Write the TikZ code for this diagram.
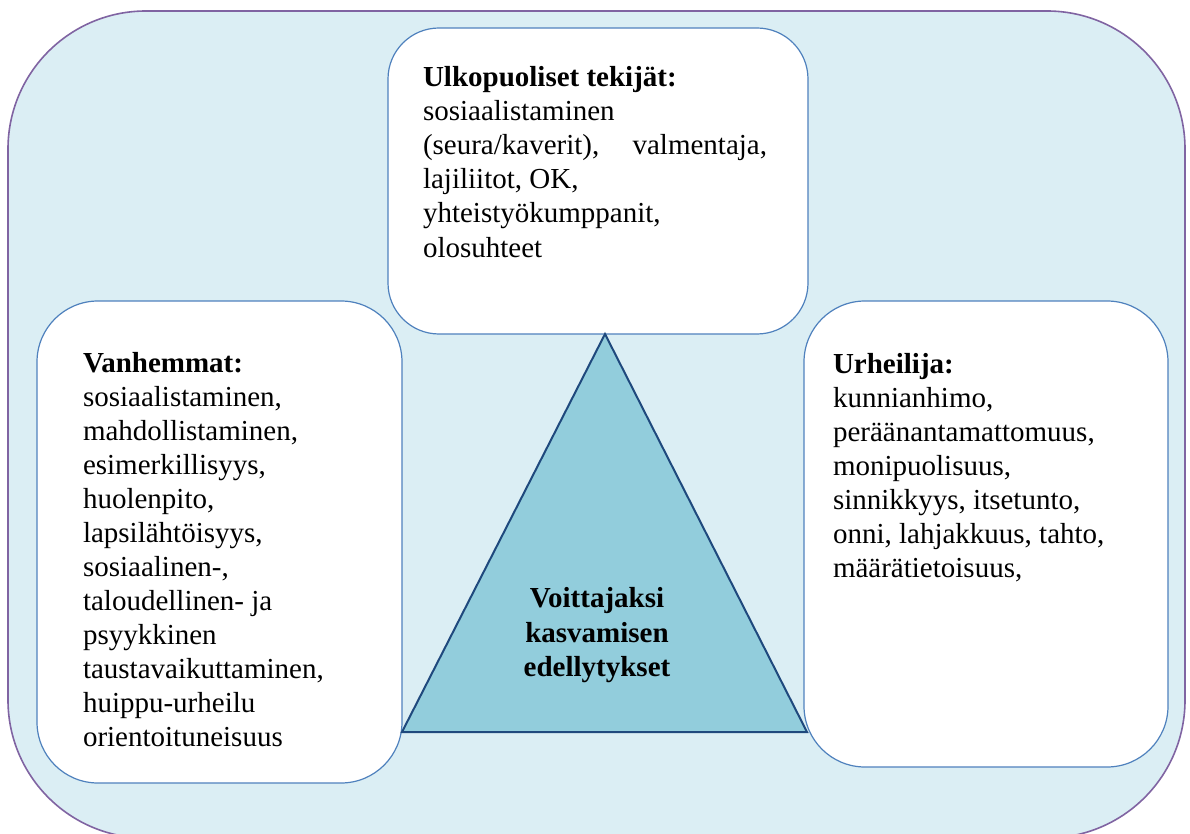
\documentclass[tikz,border=0pt]{standalone}
\usepackage{fontspec}
\setmainfont{Liberation Serif}

\definecolor{framefill}{HTML}{DBEEF4}
\definecolor{frameline}{HTML}{8064A2}
\definecolor{boxline}{HTML}{4F81BD}
\definecolor{trifill}{HTML}{92CDDC}
\definecolor{triline}{HTML}{1F497D}

\tikzset{
  frame/.style={fill=framefill, draw=frameline, line width=1.6pt},
  factorbox/.style={draw=boxline, fill=white, line width=1.2pt, inner sep=0pt, outer sep=0pt},
  pyramid/.style={fill=trifill, draw=triline, line width=2pt, line join=miter},
  bodytext/.style={inner sep=0pt, outer sep=0pt, align=left, anchor=north west,
    font=\fontsize{29}{34}\selectfont},
  goaltext/.style={inner sep=0pt, outer sep=0pt, align=center, anchor=north,
    font=\fontsize{29}{34.5}\selectfont\bfseries},
}

\begin{document}
\begin{tikzpicture}[x=1pt, y=-1pt]
\useasboundingbox (0,0) rectangle (1190,834);
\clip (0,0) rectangle (1190,834);

% background frame, its lower edge runs past the page
\draw[frame, rounded corners=138pt] (8,11) rectangle (1185,838);

% the three factor boxes
\node[factorbox, minimum width=420pt, minimum height=306pt, rounded corners=51pt]
  (external) at (598,181) {};
\node[factorbox, minimum width=365pt, minimum height=482pt, rounded corners=61pt]
  (parents) at (219.5,542) {};
\node[factorbox, minimum width=364pt, minimum height=466pt, rounded corners=61pt]
  (athlete) at (986,534) {};

% central triangle
\coordinate (apex) at (605,334);
\coordinate (baseL) at (402,732);
\coordinate (baseR) at (807,732);
\draw[pyramid] (apex) -- (baseR) -- (baseL) -- cycle;

% texts
\node[bodytext] (externaltext) at (423,63.2) {%
  \strut\textbf{Ulkopuoliset tekijät:}\\
  sosiaalistaminen\\
  \makebox[344pt][s]{(seura/kaverit), valmentaja,}\\
  lajiliitot, OK,\\
  yhteistyökumppanit,\\
  olosuhteet};

\node[bodytext] (parentstext) at (83,348.2) {%
  \strut\textbf{Vanhemmat:}\\
  sosiaalistaminen,\\
  mahdollistaminen,\\
  esimerkillisyys,\\
  huolenpito,\\
  lapsilähtöisyys,\\
  sosiaalinen-,\\
  taloudellinen- ja\\
  psyykkinen\\
  taustavaikuttaminen,\\
  huippu-urheilu\\
  orientoituneisuus};

\node[bodytext] (athletetext) at (833,349.2) {%
  \strut\textbf{Urheilija:}\\
  kunnianhimo,\\
  peräänantamattomuus,\\
  monipuolisuus,\\
  sinnikkyys, itsetunto,\\
  onni, lahjakkuus, tahto,\\
  määrätietoisuus,};

\node[goaltext] (goal) at (597,583.5) {%
  \strut Voittajaksi\\
  kasvamisen\\
  edellytykset};
\end{tikzpicture}
\end{document}
